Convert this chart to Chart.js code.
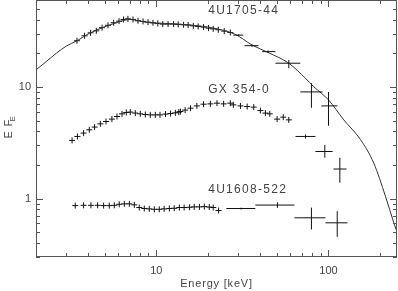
<!DOCTYPE html>
<html>
<head>
<meta charset="utf-8">
<script src="https://cdn.jsdelivr.net/npm/chart.js@4/dist/chart.umd.min.js"></script>
<style>
  html, body { margin: 0; padding: 0; background: #fff; }
  canvas { display: block; }
</style>
</head>
<body>
<canvas id="spec" width="398" height="291"></canvas>
<script>
// 4U1705-44, dense part (keV, E F_E)
const e1705 = [3.46, 3.83, 4.15, 4.48, 4.84, 5.24, 5.65, 6.07, 6.45, 6.84, 7.32, 7.83, 8.37, 8.95, 9.56,
    10.2, 10.9, 11.7, 12.6, 13.4, 14.4, 15.3, 16.4, 17.5, 18.8, 20.1, 21.4, 22.9, 24.8, 26.9];
const f1705 = [25.9, 28.7, 30.5, 31.8, 33.9, 35.6, 37.5, 38.8, 40.2, 40.7, 40.2, 39.1, 38.6, 38.0, 37.5,
    37.0, 36.5, 36.5, 36.5, 36.3, 36.0, 35.8, 35.2, 34.8, 34.3, 33.6, 33.1, 32.5, 31.6, 30.7];
// [E, F, Emin, Emax, Fmin, Fmax]
const wide1705 = [
    [30.1, 29.1, 28.0, 32.0, 28.6, 29.6],
    [36.0, 23.4, 32.5, 39.2, 22.9, 23.9],
    [44.6, 20.7, 41.2, 49.2, 20.2, 21.2],
    [58.8, 16.3, 49.2, 68.6, 14.7, 17.4],
    [79.6, 9.02, 68.6, 92.3, 6.5, 10.8],
    [100, 6.76, 90.9, 112.7, 4.49, 9.0]
];

// GX 354-0
const eGX = [3.24, 3.48, 3.78, 4.08, 4.38, 4.73, 5.10, 5.52, 5.91, 6.32, 6.69, 7.06, 7.55, 8.07, 8.63,
    9.23, 9.87, 10.5, 11.3, 12.1, 12.9, 13.5, 13.8, 14.7, 15.8, 17.2, 18.8, 20.6, 22.5, 24.6,
    26.9, 28.0, 30.8, 33.7, 36.8, 40.2, 43.0, 45.6, 50.3, 54.6, 58.8];
const fGX = [3.32, 3.60, 3.86, 4.13, 4.37, 4.67, 4.90, 5.15, 5.43, 5.74, 5.90, 5.95, 5.83, 5.74, 5.66,
    5.62, 5.62, 5.62, 5.71, 5.78, 5.86, 5.95, 6.02, 6.2, 6.45, 6.76, 7.00, 7.05, 7.15, 7.05,
    7.15, 6.91, 6.76, 6.67, 6.59, 6.14, 5.83, 5.74, 5.15, 5.36, 5.07];
const wideGX = [
    [73.5, 3.60, 64.3, 84.0, 3.45, 3.75],
    [95.2, 2.64, 84.0, 105.6, 2.32, 3.03],
    [116.4, 1.84, 107.0, 127.3, 1.39, 2.32]
];

// 4U1608-522
const e1608 = [3.38, 3.78, 4.17, 4.56, 4.94, 5.33, 5.70, 6.09, 6.52, 6.97, 7.45, 7.96, 8.51, 9.10,
    9.73, 10.4, 11.1, 11.9, 12.7, 13.6, 14.5, 15.6, 16.6, 17.8, 19.0, 20.3, 21.4, 23.0];
const f1608 = [0.866, 0.871, 0.871, 0.871, 0.866, 0.866, 0.871, 0.889, 0.897, 0.897, 0.879, 0.832,
    0.815, 0.809, 0.802, 0.802, 0.809, 0.815, 0.819, 0.832, 0.832, 0.836, 0.843, 0.843, 0.848,
    0.840, 0.832, 0.782];
const wide1608 = [
    [31.1, 0.815, 25.5, 37.6, 0.80, 0.83],
    [50.5, 0.875, 37.6, 63.4, 0.826, 0.927],
    [79.6, 0.673, 63.4, 96.0, 0.529, 0.830],
    [112.4, 0.607, 96.0, 128.9, 0.455, 0.771]
];

// model curve through 4U1705-44
const modelE = [2.0, 2.29, 2.62, 3.00, 3.46, 4.09, 4.90, 5.85, 6.60, 7.06, 7.75, 8.63, 10, 12.06,
    14.7, 18.0, 22.0, 28.8, 36.0, 45.0, 58.8, 73.5, 82.1, 100, 122.7, 153.5, 183.2, 214.2, 239.6, 255];
const modelF = [14.2, 16.8, 20.0, 23.2, 25.9, 30.2, 34.1, 37.5, 39.7, 40.1, 39.3, 38.0, 37.3, 36.9,
    36.1, 35.1, 33.4, 29.5, 23.7, 20.2, 16.3, 11.96, 10.06, 7.65, 5.07, 3.37, 2.08, 1.05, 0.607, 0.46];

const xLabels = [10, 100];
const yLabels = [1, 10];
const tagNames = ['4U1705-44', 'GX 354-0', '4U1608-522'];
const tagE = [20, 20, 20];
const tagF = [47.7, 9.4, 1.19];

const ink = '#111';
const axisColor = '#555';
const textColor = '#444';
const family = '"Liberation Sans", Arial, sans-serif';

const pts = (es, fs) => es.map((e, i) => ({ x: e, y: fs[i] }));
const widePts = (rows) => rows.map((r) => ({ x: r[0], y: r[1], xMin: r[2], xMax: r[3], yMin: r[4], yMax: r[5] }));

const dense = (label, data) => ({
    label,
    data,
    showLine: false,
    pointStyle: 'cross',
    pointRadius: 3,
    borderColor: ink,
    borderWidth: 1
});
const wide = (label, data) => ({
    label,
    data,
    showLine: false,
    pointRadius: 0,
    borderColor: ink,
    errorBars: true
});

const isDecadeStep = (v) => {
    const m = v / Math.pow(10, Math.floor(Math.log10(v) + 1e-9));
    return Math.abs(m - Math.round(m)) < 1e-6;
};
const isDecade = (v) => Math.abs(Math.log10(v) - Math.round(Math.log10(v))) < 1e-6;

const errorPlugin = {
    id: 'errorBars',
    afterDatasetsDraw(chart) {
        const { ctx, scales: { x, y } } = chart;
        ctx.save();
        ctx.strokeStyle = ink;
        ctx.lineWidth = 1;
        chart.data.datasets.forEach((ds) => {
            if (!ds.errorBars) return;
            ds.data.forEach((p) => {
                const px = x.getPixelForValue(p.x);
                const py = y.getPixelForValue(p.y);
                ctx.beginPath();
                ctx.moveTo(x.getPixelForValue(p.xMin), py);
                ctx.lineTo(x.getPixelForValue(p.xMax), py);
                ctx.moveTo(px, y.getPixelForValue(p.yMin));
                ctx.lineTo(px, y.getPixelForValue(p.yMax));
                ctx.stroke();
            });
        });
        ctx.restore();
    }
};

const framePlugin = {
    id: 'frame',
    afterDraw(chart) {
        const { ctx, chartArea: a, scales: { x, y } } = chart;
        ctx.save();
        ctx.strokeStyle = axisColor;
        ctx.lineWidth = 1;
        ctx.strokeRect(a.left + 0.5, a.top + 0.5, a.right - a.left - 1, a.bottom - a.top - 1);
        ctx.beginPath();
        x.ticks.forEach((t) => {
            if (!isDecadeStep(t.value)) return;
            const px = Math.round(x.getPixelForValue(t.value)) + 0.5;
            const len = isDecade(t.value) ? 7 : 4;
            ctx.moveTo(px, a.bottom);
            ctx.lineTo(px, a.bottom - len);
            ctx.moveTo(px, a.top);
            ctx.lineTo(px, a.top + len);
        });
        y.ticks.forEach((t) => {
            if (!isDecadeStep(t.value)) return;
            const py = Math.round(y.getPixelForValue(t.value)) + 0.5;
            const len = isDecade(t.value) ? 7 : 4;
            ctx.moveTo(a.left, py);
            ctx.lineTo(a.left + len, py);
            ctx.moveTo(a.right, py);
            ctx.lineTo(a.right - len, py);
        });
        ctx.stroke();

        // source names
        ctx.fillStyle = textColor;
        ctx.font = `12px ${family}`;
        ctx.letterSpacing = '1.3px';
        ctx.textAlign = 'left';
        ctx.textBaseline = 'middle';
        tagNames.forEach((name, i) => {
            ctx.fillText(name, x.getPixelForValue(tagE[i]), y.getPixelForValue(tagF[i]));
        });

        // axis titles
        ctx.font = `11px ${family}`;
        ctx.letterSpacing = '0.8px';
        ctx.textAlign = 'center';
        ctx.fillText('Energy [keV]', (a.left + a.right) / 2, 284);

        ctx.translate(12, (a.top + a.bottom) / 2);
        ctx.rotate(-Math.PI / 2);
        ctx.textAlign = 'left';
        ctx.textBaseline = 'alphabetic';
        ctx.fillText('E F', -10, 0);
        ctx.font = `8px ${family}`;
        ctx.fillText('E', 7, 3);
        ctx.restore();
    }
};

new Chart(document.getElementById('spec'), {
    type: 'scatter',
    data: {
        datasets: [
            {
                label: 'model',
                data: pts(modelE, modelF),
                showLine: true,
                borderColor: '#333',
                borderWidth: 1,
                pointRadius: 0,
                cubicInterpolationMode: 'monotone'
            },
            dense('4U1705-44', pts(e1705, f1705)),
            wide('4U1705-44 hi', widePts(wide1705)),
            dense('GX 354-0', pts(eGX, fGX)),
            wide('GX 354-0 hi', widePts(wideGX)),
            dense('4U1608-522', pts(e1608, f1608)),
            wide('4U1608-522 hi', widePts(wide1608))
        ]
    },
    options: {
        responsive: false,
        devicePixelRatio: 1,
        animation: false,
        events: [],
        layout: { autoPadding: false, padding: { top: 0, right: 1, left: 0, bottom: 0 } },
        plugins: {
            legend: { display: false },
            tooltip: { enabled: false }
        },
        scales: {
            x: {
                type: 'logarithmic',
                position: 'bottom',
                min: 2,
                max: 250,
                grid: { display: false, drawTicks: false },
                border: { display: false },
                ticks: {
                    autoSkip: false,
                    maxRotation: 0,
                    padding: 7,
                    color: textColor,
                    font: { family, size: 11 },
                    callback: (v) => (xLabels.includes(v) ? String(v) : '')
                },
                afterFit(scale) {
                    scale.height = 34;
                    scale.paddingLeft = 0;
                    scale.paddingRight = 0;
                }
            },
            y: {
                type: 'logarithmic',
                position: 'left',
                min: 0.3,
                max: 60,
                grid: { display: false, drawTicks: false },
                border: { display: false },
                ticks: {
                    autoSkip: false,
                    padding: 5,
                    color: textColor,
                    font: { family, size: 11 },
                    callback: (v) => (yLabels.includes(v) ? String(v) : '')
                },
                afterFit(scale) {
                    scale.width = 36;
                    scale.paddingTop = 0;
                    scale.paddingBottom = 0;
                }
            }
        }
    },
    plugins: [errorPlugin, framePlugin]
});
</script>
</body>
</html>
